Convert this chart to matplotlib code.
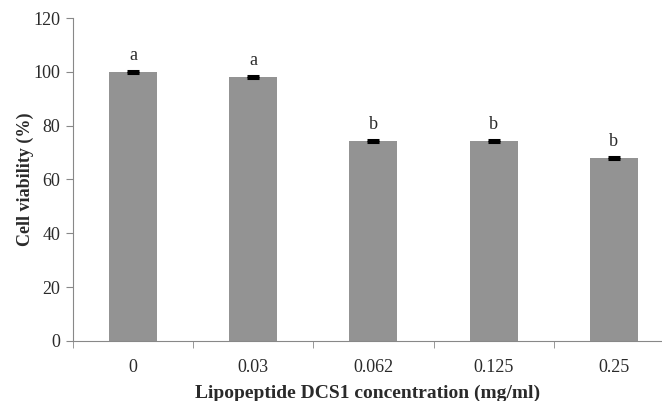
import numpy as np
import matplotlib.pyplot as plt

# dados
concentracoes = ['0', '0.03', '0.062', '0.125', '0.25']
viabilidade = [100.0, 98.0, 74.4, 74.4, 68.1]
erros = [0.3, 0.4, 0.3, 0.3, 0.4]
letras = ['a', 'a', 'b', 'b', 'b']

plt.rcParams['font.family'] = 'Liberation Serif'

fig = plt.figure(figsize=(6.62, 4.01), dpi=100)
ax = fig.add_axes([0.110, 0.150, 0.890, 0.805])

x = np.arange(len(concentracoes))
ax.bar(x, viabilidade, width=0.4, color='#939393', zorder=2)
ax.errorbar(x, viabilidade, yerr=erros, fmt='none', ecolor='black',
            elinewidth=1, capsize=4, capthick=2.2, zorder=3)

for xi, v, e, l in zip(x, viabilidade, erros, letras):
    ax.text(xi, v + e + 2.5, l, ha='center', va='bottom', fontsize=13, color='#2a2a2a')

ax.set_xlim(-0.5, 4.4)
ax.set_ylim(0, 120)
ax.set_yticks(np.arange(0, 121, 20))
ax.set_xticks(x)
ax.set_xticklabels(concentracoes)
ax.set_xticks(np.arange(-0.5, 4.5, 1), minor=True)
ax.tick_params(axis='x', which='major', length=0, pad=13, labelsize=13, labelcolor='#2a2a2a')
ax.tick_params(axis='x', which='minor', length=5, color='#888888', direction='out')
ax.tick_params(axis='y', length=5, color='#888888', labelsize=13, labelcolor='#2a2a2a', pad=4)

for s in ['top', 'right']:
    ax.spines[s].set_visible(False)
for s in ['left', 'bottom']:
    ax.spines[s].set_color('#888888')

ax.set_xlabel('Lipopeptide DCS1 concentration (mg/ml)', fontsize=14, fontweight='bold',
              labelpad=6.5, color='#2a2a2a')
ax.set_ylabel('Cell viability (%)', fontsize=13, fontweight='bold', labelpad=-0.5, color='#2a2a2a')

plt.savefig('out.png', dpi=100)
